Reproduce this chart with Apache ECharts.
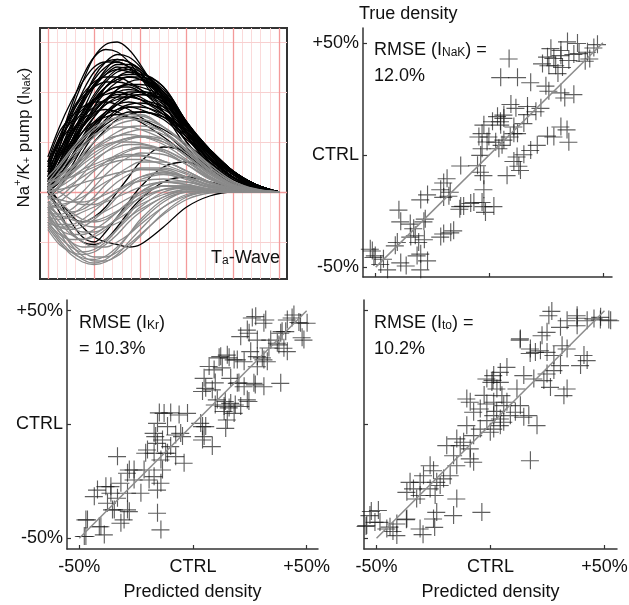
<!DOCTYPE html>
<html><head><meta charset="utf-8">
<script src="https://cdn.jsdelivr.net/npm/echarts@6/dist/echarts.min.js"></script>
<style>html,body{margin:0;padding:0;background:#fff}#c{width:629px;height:605px}</style>
</head><body><div id="c"></div>
<script>
// ---------- Wave panel data ----------
const waveT = [0,0.25,0.5,0.75,1,1.25,1.5,1.75,2,2.5,3,3.5,4,4.5,5];
const blackWaves = [
 [0.2,0.9,1.6,2.2,2.7,2.95,3.0,2.85,2.55,1.8,1.0,0.45,0.15,0.05,0],
 [0.3,1.0,1.7,2.3,2.7,2.85,2.8,2.6,2.3,1.6,0.9,0.4,0.15,0.05,0],
 [0.1,0.6,1.1,1.6,2.1,2.45,2.65,2.6,2.4,1.85,1.2,0.6,0.25,0.08,0],
 [0.1,0.4,0.8,1.3,1.7,2.1,2.3,2.4,2.35,2.0,1.35,0.75,0.35,0.1,0],
 [0.3,0.8,1.3,1.8,2.1,2.35,2.5,2.45,2.3,1.85,1.25,0.7,0.35,0.12,0],
 [0.05,0.5,1.0,1.5,1.9,2.2,2.4,2.45,2.35,1.9,1.2,0.6,0.25,0.08,0],
 [0.4,1.1,1.6,1.95,2.2,2.3,2.3,2.2,2.05,1.6,1.0,0.5,0.2,0.06,0],
 [0.2,0.7,1.1,1.5,1.85,2.1,2.25,2.3,2.25,1.95,1.35,0.85,0.42,0.14,0],
 [0.0,0.3,0.7,1.1,1.5,1.8,2.05,2.2,2.25,2.0,1.4,0.8,0.4,0.12,0],
 [0.5,1.0,1.3,1.6,1.85,2.0,2.1,2.1,2.0,1.7,1.2,0.7,0.3,0.1,0],
 [0.1,0.5,0.9,1.3,1.6,1.85,2.0,2.05,2.0,1.75,1.3,0.8,0.4,0.15,0],
 [0.2,0.6,1.0,1.35,1.65,1.85,1.95,1.95,1.9,1.6,1.15,0.7,0.3,0.1,0],
 [0.0,0.2,0.5,0.9,1.25,1.55,1.75,1.9,1.95,1.8,1.3,0.8,0.4,0.15,0],
 [0.3,0.7,1.0,1.3,1.55,1.75,1.85,1.9,1.85,1.6,1.2,0.75,0.35,0.12,0],
 [0.1,0.4,0.8,1.1,1.4,1.6,1.75,1.8,1.75,1.5,1.1,0.65,0.3,0.1,0],
 [0.6,1.2,1.5,1.7,1.8,1.8,1.75,1.65,1.5,1.2,0.8,0.45,0.2,0.06,0],
 [0.0,0.3,0.6,0.9,1.2,1.45,1.65,1.75,1.78,1.65,1.3,0.85,0.42,0.15,0],
 [0.2,0.5,0.8,1.1,1.35,1.55,1.65,1.7,1.65,1.45,1.05,0.65,0.3,0.1,0],
 [-0.1,0.1,0.4,0.8,1.15,1.4,1.6,1.7,1.7,1.55,1.2,0.75,0.35,0.1,0],
 [0.3,0.8,1.2,1.45,1.6,1.65,1.6,1.5,1.4,1.1,0.75,0.4,0.18,0.05,0],
 [0.1,0.3,0.6,0.9,1.15,1.35,1.5,1.6,1.6,1.5,1.25,0.85,0.42,0.15,0],
 [0.0,0.2,0.4,0.7,1.0,1.25,1.45,1.55,1.6,1.5,1.2,0.8,0.4,0.12,0],
 [0.2,0.5,0.9,1.2,1.4,1.5,1.55,1.5,1.45,1.25,0.95,0.6,0.28,0.08,0],
 [0.0,-0.3,-0.5,-0.6,-0.5,-0.3,0.0,0.3,0.6,0.9,0.8,0.5,0.25,0.08,0],
 [0.1,-0.2,-0.6,-0.9,-1.0,-0.8,-0.5,-0.2,0.1,0.5,0.6,0.4,0.2,0.06,0],
 [0.0,-0.4,-0.8,-1.0,-1.05,-0.95,-0.7,-0.4,-0.15,0.2,0.3,0.2,0.1,0.03,0],
 [0.05,-0.2,-0.45,-0.7,-0.9,-1.0,-1.05,-1.1,-1.05,-0.7,-0.3,-0.08,0,0,0],
 [0.2,0.5,0.9,1.3,1.7,2.0,2.2,2.3,2.3,2.05,1.4,0.8,0.4,0.12,0],
 [0.15,0.6,1.2,1.8,2.3,2.6,2.75,2.7,2.5,1.9,1.15,0.55,0.2,0.05,0],
 [0.25,0.7,1.25,1.75,2.15,2.4,2.55,2.55,2.45,2.0,1.35,0.75,0.35,0.1,0],
 [0.7,1.3,1.8,2.2,2.5,2.6,2.6,2.5,2.3,1.75,1.1,0.55,0.2,0.06,0],
 [0.4,0.9,1.5,2.0,2.4,2.6,2.65,2.6,2.45,1.95,1.3,0.7,0.3,0.08,0],
 [0.2,0.6,1.1,1.55,1.95,2.25,2.45,2.5,2.4,2.1,1.4,0.8,0.4,0.12,0],
 [0.5,1.0,1.45,1.85,2.15,2.35,2.45,2.4,2.3,1.95,1.35,0.8,0.42,0.15,0],
 [0.1,0.5,1.0,1.45,1.85,2.1,2.25,2.3,2.25,2.0,1.38,0.85,0.42,0.15,0],
 [0.6,1.1,1.55,1.9,2.1,2.2,2.2,2.15,2.05,1.8,1.3,0.8,0.4,0.14,0],
 [0.3,0.8,1.35,1.85,2.25,2.5,2.6,2.5,2.3,1.85,1.2,0.65,0.3,0.08,0],
 [0.0,0.4,0.9,1.4,1.8,2.1,2.3,2.35,2.35,2.1,1.4,0.85,0.42,0.15,0],
 [0.35,0.75,1.15,1.5,1.8,2.0,2.1,2.15,2.1,1.9,1.35,0.8,0.4,0.14,0],
 [0.15,0.45,0.85,1.2,1.5,1.75,1.9,2.0,2.0,1.85,1.38,0.85,0.42,0.15,0],
 [0.45,0.85,1.2,1.5,1.7,1.85,1.9,1.9,1.85,1.7,1.3,0.85,0.42,0.15,0],
 [0.25,0.55,0.95,1.3,1.6,1.85,2.05,2.15,2.15,1.95,1.3,0.75,0.38,0.12,0],
 [0.05,0.3,0.7,1.05,1.35,1.6,1.8,1.95,2.0,1.9,1.35,0.85,0.42,0.14,0],
 [0.55,1.05,1.4,1.65,1.85,1.95,2.0,1.95,1.85,1.55,1.1,0.65,0.3,0.09,0],
 [0.1,0.35,0.65,1.0,1.3,1.55,1.75,1.88,1.95,1.85,1.3,0.8,0.4,0.13,0]
];
const grayWaves = [
 [0.2,0.5,0.8,1.05,1.25,1.4,1.5,1.55,1.55,1.3,0.9,0.5,0.2,0.05,0],
 [0.0,0.3,0.6,0.9,1.1,1.3,1.42,1.5,1.52,1.3,0.95,0.55,0.22,0.06,0],
 [0.1,0.4,0.7,0.95,1.15,1.25,1.3,1.3,1.25,1.05,0.7,0.35,0.12,0.03,0],
 [-0.1,0.1,0.35,0.6,0.85,1.05,1.2,1.3,1.32,1.2,0.85,0.45,0.15,0.04,0],
 [0.2,0.35,0.5,0.7,0.9,1.05,1.12,1.15,1.12,0.95,0.65,0.32,0.1,0.02,0],
 [-0.2,-0.1,0.1,0.35,0.6,0.8,0.95,1.05,1.1,1.0,0.72,0.38,0.13,0.03,0],
 [0.0,0.1,0.25,0.45,0.65,0.8,0.9,0.95,0.95,0.82,0.55,0.25,0.08,0.02,0],
 [-0.3,-0.3,-0.2,0.0,0.25,0.5,0.7,0.82,0.88,0.8,0.55,0.27,0.08,0.02,0],
 [0.1,0.2,0.3,0.45,0.55,0.65,0.72,0.75,0.74,0.62,0.42,0.2,0.07,0.02,0],
 [-0.4,-0.5,-0.45,-0.3,-0.1,0.15,0.35,0.5,0.6,0.6,0.42,0.2,0.06,0.01,0],
 [-0.2,-0.35,-0.4,-0.35,-0.2,0.0,0.2,0.35,0.45,0.45,0.3,0.14,0.04,0.01,0],
 [-0.5,-0.7,-0.75,-0.7,-0.55,-0.35,-0.1,0.1,0.25,0.35,0.25,0.1,0.03,0,0],
 [-0.3,-0.6,-0.85,-0.95,-0.9,-0.75,-0.5,-0.25,0.0,0.2,0.15,0.06,0.02,0,0],
 [-0.6,-0.9,-1.1,-1.2,-1.15,-1.0,-0.75,-0.45,-0.2,0.05,0.1,0.05,0.01,0,0],
 [-0.4,-0.8,-1.15,-1.35,-1.42,-1.35,-1.15,-0.85,-0.55,-0.15,0.0,0.02,0,0,0],
 [-0.7,-1.0,-1.25,-1.4,-1.45,-1.4,-1.25,-1.0,-0.75,-0.3,-0.05,0,0,0,0],
 [-0.2,-0.5,-0.8,-1.0,-1.1,-1.1,-1.0,-0.85,-0.65,-0.3,-0.08,0,0,0,0],
 [0.0,-0.2,-0.4,-0.55,-0.6,-0.55,-0.4,-0.2,0.0,0.2,0.2,0.1,0.03,0,0],
 [0.1,0.0,-0.15,-0.25,-0.25,-0.15,0.0,0.15,0.3,0.4,0.3,0.14,0.04,0.01,0],
 [-0.5,-0.55,-0.5,-0.4,-0.3,-0.2,-0.1,0.0,0.1,0.2,0.15,0.06,0.02,0,0],
 [-0.6,-0.85,-0.95,-0.95,-0.85,-0.7,-0.55,-0.4,-0.25,-0.05,0.05,0.03,0.01,0,0],
 [0.15,0.3,0.5,0.7,0.85,0.95,1.0,1.0,0.98,0.85,0.6,0.3,0.1,0.02,0],
 [-0.1,0.0,0.15,0.3,0.45,0.55,0.62,0.65,0.65,0.55,0.38,0.18,0.06,0.01,0],
 [-0.75,-1.05,-1.2,-1.25,-1.2,-1.05,-0.85,-0.6,-0.4,-0.1,0.02,0.02,0,0,0],
 [-0.3,-0.7,-1.0,-1.2,-1.3,-1.3,-1.2,-1.05,-0.85,-0.45,-0.15,-0.02,0,0,0],
 [0.05,0.25,0.45,0.65,0.85,1.0,1.12,1.2,1.25,1.15,0.85,0.45,0.15,0.04,0],
 [-0.4,-0.45,-0.35,-0.15,0.1,0.35,0.55,0.7,0.78,0.75,0.55,0.28,0.09,0.02,0],
 [-0.1,-0.3,-0.5,-0.65,-0.7,-0.7,-0.62,-0.5,-0.35,-0.1,0.05,0.04,0.01,0,0],
 [-0.55,-0.75,-0.85,-0.85,-0.75,-0.6,-0.4,-0.2,-0.05,0.12,0.12,0.05,0.01,0,0],
 [0.2,0.25,0.3,0.4,0.5,0.6,0.68,0.72,0.72,0.62,0.42,0.2,0.06,0.01,0],
 [0.3,0.55,0.85,1.1,1.3,1.42,1.48,1.48,1.42,1.2,0.82,0.42,0.15,0.04,0],
 [-0.15,0.15,0.45,0.75,1.0,1.2,1.35,1.42,1.45,1.3,0.95,0.5,0.18,0.04,0],
 [0.05,0.2,0.4,0.6,0.78,0.92,1.02,1.08,1.1,1.0,0.72,0.36,0.12,0.03,0],
 [-0.35,-0.2,0.0,0.2,0.42,0.6,0.75,0.85,0.9,0.85,0.62,0.3,0.1,0.02,0],
 [-0.45,-0.65,-0.65,-0.55,-0.38,-0.18,0.02,0.18,0.3,0.38,0.28,0.12,0.03,0,0],
 [-0.25,-0.5,-0.7,-0.8,-0.8,-0.7,-0.52,-0.3,-0.1,0.12,0.12,0.05,0.01,0,0],
 [-0.5,-0.8,-1.0,-1.1,-1.08,-0.95,-0.75,-0.52,-0.3,0.0,0.08,0.04,0.01,0,0],
 [-0.65,-0.95,-1.2,-1.32,-1.35,-1.28,-1.1,-0.85,-0.6,-0.2,0.0,0.01,0,0,0],
 [-0.35,-0.7,-1.05,-1.28,-1.38,-1.38,-1.28,-1.1,-0.88,-0.42,-0.1,0,0,0,0],
 [0.0,0.05,0.1,0.18,0.25,0.32,0.38,0.42,0.45,0.42,0.3,0.14,0.04,0.01,0],
 [-0.2,-0.25,-0.2,-0.1,0.05,0.2,0.32,0.42,0.48,0.48,0.35,0.17,0.05,0.01,0],
 [-0.1,-0.15,-0.2,-0.2,-0.15,-0.05,0.06,0.15,0.22,0.26,0.2,0.09,0.03,0,0],
 [0.1,0.2,0.35,0.55,0.72,0.88,1.0,1.08,1.12,1.05,0.78,0.4,0.14,0.03,0],
 [-0.6,-0.7,-0.7,-0.62,-0.5,-0.38,-0.25,-0.12,0.0,0.12,0.1,0.04,0.01,0,0],
 [-0.3,-0.45,-0.55,-0.6,-0.58,-0.5,-0.38,-0.25,-0.12,0.05,0.08,0.04,0.01,0,0]
];
const waveMajorTicks = [0,1,2,3,4,5];
const waveMinorTicks = [0.2,0.4,0.6,0.8,1.2,1.4,1.6,1.8,2.2,2.4,2.6,2.8,3.2,3.4,3.6,3.8,4.2,4.4,4.6,4.8];
const waveHLines = [-1,1,2,3];
const waveYTicks = [-1,0,1,2,3];

// ---------- Scatter panels data ----------
const pctTicks = [-50,0,50];
const pctLabels = {'-50':'-50%','0':'CTRL','50':'+50%'};
const identityLine = [[-50,-50],[50,50]];

const nakPoints = [
 [34.2,50.6],[38.6,49.9],[26.9,47.6],[31.3,46.8],[25.4,43.8],[28.2,43.2],[31.3,44.5],[23.2,40.8],[26,40],[29,40],
 [32,39.2],[34.8,42.3],[39.3,45.4],[43,46],[45.8,47.9],[47.4,49.4],[8.5,43],[4.8,34.7],[12.2,34.7],[18,32.4],
 [24.7,30.9],[26,28.6],[31.3,27.9],[33,25.6],[37,27.1],[9.3,22.7],[11.5,21],[16.6,21.8],[20.3,19.5],[22.5,21],
 [3.4,17.3],[6.2,16.5],[1.2,15],[4.8,13.5],[16.6,18.2],[15,14.2],[10.6,12.7],[12.2,9.7],[-2.6,13.5],[-4.8,8.2],
 [-0.4,8.2],[2.6,5.9],[6.2,6.8],[31.3,12.7],[34,11.4],[28.2,8.2],[25.4,8.6],[34.8,5.9],[44,43],[30,36.5],
 [37,45],[42,42],[20.9,4.5],[18,2.2],[15,0.3],[12,-0.7],[10.6,-2.7],[12.8,-4.8],[7.6,-9],[13.5,-6.7],
 [9,8.2],[10.6,9.7],[5.4,4.5],[4,3],[-1.2,6],[-3.4,3],[-4,0],[4.7,15],[6.2,18],[-3.4,9.7],
 [-12.8,-4.7],[-5.4,-4.6],[-2.6,-9],[-2.6,-15.3],[-2.6,-22.8],[1.8,-22.8],[-20.3,-12.3],[-21.6,-15.3],[-18,-18.2],[-27.4,-17.6],
 [-30.4,-19.8],[-12.8,-22.8],[-8.4,-21.4],[-20.3,-35],[-17.2,-34.5],[-21.6,-36.4],[-40,-24.4],[-39.2,-29.6],[-33.5,-32.7],[-29,-29.6],
 [-34.8,-36.4],[-31.3,-38.8],[-40.7,-38.8],[-51.7,-42.6],[-51,-45.5],[-45,-51],[-39.2,-47.9],[-30.4,-44],[-27.4,-47],[-30.4,-51],
 [-48,-48.6],[-18.8,-10.4],[-17.4,-16.4],[-20.3,-18.7],[-4.1,-7.5],[-1.9,-25.4],[-7,-21],[-13.2,-24],[-35,-30.6],[-32.8,-35.8],
 [-28.8,-37.6],[-41.6,-40.3],[-15.9,-33.6],[-52.6,-41.8],[-50.4,-44.8],[-46.8,-46.3],[-36.8,-49.3],[-32,-44.8],[-28.4,-28.4],[-11.5,-22.7],
 [-3.4,-21]
];
const krPoints = [
 [27.4,47.6],[31.8,46.1],[31,44.7],[23.7,41.7],[24.5,40.3],[20.8,38.8],[28.1,37.3],[34,37.3],[36.9,35.9],[41.3,46.1],
 [44.2,48.3],[47.1,44.7],[50,44.7],[48.6,37.3],[39.8,33.7],[41.3,32.2],[38.4,40.3],[40.6,41],[25.2,32.2],[28.1,30],
 [31,28.6],[32.5,27.8],[28.1,25.6],[22.3,27.8],[17.9,28.6],[14.9,30.7],[12,30],[9.1,24.2],[4.7,20.5],[5.4,16.1],
 [8.3,15.4],[16.4,20.5],[19.3,18.3],[22.3,16.8],[26.6,18.3],[31,16.8],[38.4,18.3],[10.5,11],[13.5,8.1],[16.4,9.5],
 [17.9,5.1],[20.8,8.1],[23.7,11],[14.9,2.2],[13.5,5.9],[3.2,0.7],[5.4,-0.7],[4.7,-5.1],[8.3,-9.5],[-2.6,5.1],
 [-6.3,4.4],[-12.9,5.1],[-15.8,0.7],[-11.4,-0.7],[-5.6,-3.7],[-4.8,-5.1],[-10,-9.5],[-11.4,-12.4],[-7.8,-13.9],[-4.1,-16.8],
 [-17.3,-3.7],[-15.8,-8.1],[-20.2,-11],[-17.3,-12.4],[-14.3,-15.4],[-17.3,-22.7],[-14.3,-25.6],[-15.8,-28.6],[-21.7,-19.8],[-26.1,-19.8],
 [-29,-21.2],[-26.1,-24.2],[-33.4,-13.9],[-31.9,-25.6],[-36.3,-27.1],[-36.3,-30],[-29,-30],[-23.1,-30],[-33.4,-32.2],[-42.2,-28.6],
 [-37.8,-34.4],[-34.8,-37.3],[-29,-37.3],[-30.5,-41.7],[-15.8,-38.8],[-14.3,-46.1],[-46.6,-41.7],[-48,-49],[-40.7,-44.7],[-39.2,-48.3],
 [-31.9,-43.2],[25.9,47],[43.4,47],[46.4,45],[39,41],[47.8,38.3],[37.6,35.2],[33.2,33.8],[30.3,29.5],[11.3,29.5],
 [15.7,29.5],[19.3,28.6],[6.9,25.7],[12.7,25.1],[9.6,18.5],[4,14.7],[20,18.5],[27.2,17.6],[-15,5.3],[-10,5.3],
 [14,10.3],[15.7,7.5],[9.6,8.8],[18.4,8.8],[24.4,10.3],[-43.6,-31.5],[-47.3,-41.7],[-47.3,-49],[-41.4,-44.7],[-35.6,-37.3],
 [-28.2,-38.1],[-38.5,-27.1],[4,-0.7],[14.2,-1.5],[4,-6.6],[-12.2,-12.4],[-13.6,-6.6],[-16.6,-5.1],[-7.8,-4.4],[-13.6,-19.8],
 [-19.5,-24.2],[-21,-12.4],[-28.2,-19.8]
];
const toPoints = [
 [25.4,48],[33.4,45.8],[37.8,48],[37.8,43.6],[42.2,45.8],[45.2,46.6],[48.1,47.3],[52.5,45.8],[30.5,42.9],[24.6,40.7],
 [22.4,39.2],[17.3,33.4],[19.5,31.9],[21.7,32.6],[24.6,31.9],[27.6,30.5],[12.9,37.8],[31.2,34.8],[33.4,33.4],[30.5,26.1],
 [27.6,23.9],[24.6,22.4],[23.2,19.5],[26.1,16.5],[33.4,15.8],[32,12.9],[40.8,30.5],[42.2,28.3],[39.3,26.1],[18.8,20.2],
 [14.4,21.7],[11.4,15.8],[7,25.3],[4.1,23.1],[1.2,21.7],[0.4,18.7],[4.1,18.7],[-1.8,20.2],[2.6,15.8],[4.8,12.9],
 [7,10],[5.6,8.5],[1.2,10],[-1.8,9.2],[-4.7,7],[-9.1,10],[-10.6,11.4],[-7.6,5.6],[-1.8,1.9],[1.2,4.1],
 [4.1,2.6],[8.5,4.1],[10.7,5.6],[12.9,8.5],[14.4,3.4],[16.6,4.1],[4.1,-0.3],[5.6,1.2],[1.2,-1.8],[-0.3,-3.2],
 [-4.7,-1.8],[-10.6,-0.3],[-7.6,-4.7],[-12,-7.6],[-13.5,-9.1],[-15,-6.1],[-19.4,-9.1],[-9.1,-10.5],[-7.6,-16.4],[-9.1,-14.9],
 [-16.4,-13.5],[-15,-17.9],[-17.9,-22.3],[-26.7,-17.9],[-25.2,-20.1],[-29.6,-22.3],[-31.1,-25.2],[-35.5,-25.2],[-34,-28.1],[-36.9,-29.6],
 [-31.1,-31],[-32.6,-32.5],[-26.7,-28.1],[-23.8,-25.2],[-22.3,-26.6],[-24.5,-31],[-20.8,-23.7],[-15,-32.5],[-23.8,-38.4],[-25.2,-41.3],
 [-16.4,-39.8],[-4,-38.4],[-31.1,-45.7],[-36.9,-41.3],[-41.3,-43.5],[-44.3,-44.9],[-45.7,-45.7],[-48.7,-42.8],[-53.1,-39.8],[-50.9,-42.8],
 [-54.5,-44.2],[17.3,-15.7],[20.2,-0.3],[-49.4,-37.6],[-41.3,-48.6],[-29.8,-48.2],[-24.7,-45],[-52.5,-38],[-54.8,-44.6],[-43,-46.8],
 [-37.1,-41.6],[26.7,49.9],[12.8,37.3],[17.2,31.4],[37.8,46.9],[48,46.1],[51.7,46.1],[0.9,19.6],[2.5,6],[-3,13]
];

// ---------- chart ----------
const FONT = '"Liberation Sans", Arial, Helvetica, sans-serif';
const TXT = '#111';
const crossPath = 'path://M0,9.4H19V10.6H0Z M9.4,0H10.6V19H9.4Z';
const chart = echarts.init(document.getElementById('c'), null, {renderer:'canvas'});

const subRich = {
  n:{fontSize:18, fontWeight:'normal', fontFamily:FONT, color:TXT, lineHeight:26},
  s:{fontSize:12, fontWeight:'normal', fontFamily:FONT, color:TXT, verticalAlign:'middle', padding:[5,0,0,0]},
  p:{fontSize:12, fontWeight:'normal', fontFamily:FONT, color:TXT, verticalAlign:'top', lineHeight:22}
};
const nameRich = {
  n:{fontSize:17, fontWeight:'normal', fontFamily:FONT, color:TXT, lineHeight:24},
  s:{fontSize:11, fontWeight:'normal', fontFamily:FONT, color:TXT, verticalAlign:'middle', padding:[5,0,0,0]},
  p:{fontSize:11, fontWeight:'normal', fontFamily:FONT, color:TXT, verticalAlign:'top', lineHeight:20}
};

function pctXAxis(grid, min, max, showLabels, name){
  return {type:'value', gridIndex:grid, min:min, max:max,
    name: name || '', nameLocation:'middle', nameGap:34,
    nameTextStyle:{fontSize:18, fontFamily:FONT, color:TXT},
    axisLine:{show:true, onZero:false, lineStyle:{color:'#333', width:1.5}},
    axisTick:{show:true, inside:true, length:4, customValues:pctTicks, lineStyle:{color:'#333', width:1.2}},
    axisLabel:{show:showLabels, customValues:pctTicks, formatter:v=>pctLabels[String(v)], fontSize:18, fontFamily:FONT, color:TXT, margin:9},
    splitLine:{show:false}};
}
function pctYAxis(grid, min, max, showLabels){
  return {type:'value', gridIndex:grid, min:min, max:max,
    axisLine:{show:true, onZero:false, lineStyle:{color:'#333', width:1.5}},
    axisTick:{show:true, inside:true, length:4, customValues:pctTicks, lineStyle:{color:'#333', width:1.2}},
    axisLabel:{show:showLabels, customValues:pctTicks, formatter:v=>pctLabels[String(v)], fontSize:18, fontFamily:FONT, color:TXT, margin:4},
    splitLine:{show:false}};
}

const series = [];
series.push({type:'line', xAxisIndex:0, yAxisIndex:0, data:[], symbol:'none', silent:true, z:1,
  markLine:{silent:true, z:1, zlevel:0, symbol:['none','none'], label:{show:false}, animation:false,
    data: [].concat(
      waveMinorTicks.map(v=>({xAxis:v, lineStyle:{color:'#fbdada', width:1, type:'solid'}})),
      waveHLines.map(v=>({yAxis:v, lineStyle:{color:'#f8d0d0', width:1, type:'solid'}})),
      waveMajorTicks.map(v=>({xAxis:v, lineStyle:{color:'#f39a9a', width:1.3, type:'solid'}})),
      [{yAxis:0, lineStyle:{color:'#f39a9a', width:1.3, type:'solid'}}]
    )}});
blackWaves.forEach(w=>series.push({type:'line', xAxisIndex:0, yAxisIndex:0, smooth:0.35, symbol:'none', silent:true, z:6,
  data: waveT.map((t,i)=>[t,w[i]]), lineStyle:{color:'#000', width:1.3}}));
grayWaves.forEach(w=>series.push({type:'line', xAxisIndex:0, yAxisIndex:0, smooth:0.35, symbol:'none', silent:true, z:7,
  data: waveT.map((t,i)=>[t,w[i]]), lineStyle:{color:'#8a8a8a', width:1.3}}));

[[1,nakPoints],[2,krPoints],[3,toPoints]].forEach(([g,pts])=>{
  series.push({type:'scatter', xAxisIndex:g, yAxisIndex:g, data:pts, symbol:crossPath, symbolSize:18, silent:true, z:3,
    itemStyle:{color:'rgba(20,20,20,0.85)'}});
  series.push({type:'line', xAxisIndex:g, yAxisIndex:g, data:identityLine, symbol:'none', silent:true, z:4,
    lineStyle:{color:'#8c8c8c', width:1.5}});
});

chart.setOption({
  animation:false,
  backgroundColor:'#fff',
  textStyle:{fontFamily:FONT},
  grid:[
    {left:40, top:28, width:247, height:251, show:true, borderColor:'#333', borderWidth:2, backgroundColor:'#fff', outerBoundsMode:'none', containLabel:false},
    {left:363, top:28, width:249, height:249, outerBoundsMode:'none', containLabel:false},
    {left:67, top:300, width:251, height:249, outerBoundsMode:'none', containLabel:false},
    {left:364, top:300, width:253, height:249, outerBoundsMode:'none', containLabel:false}
  ],
  xAxis:[
    {type:'value', gridIndex:0, min:-0.17, max:5.17, axisLine:{show:false}, axisTick:{show:false}, axisLabel:{show:false}, splitLine:{show:false}},
    pctXAxis(1, -55.6, 54, false),
    pctXAxis(2, -55.4, 55, true, 'Predicted density'),
    pctXAxis(3, -55.5, 55.5, true, 'Predicted density')
  ],
  yAxis:[
    {type:'value', gridIndex:0, min:-1.74, max:3.28, axisLine:{show:false},
     axisTick:{show:true, inside:true, length:4, customValues:waveYTicks, lineStyle:{color:'#666', width:1}},
     axisLabel:{show:false}, splitLine:{show:false},
     name:'{n|Na}{p|+}{n|/K}{s|+}{n| pump (I}{s|NaK}{n|)}', nameLocation:'middle', nameRotate:90, nameGap:4,
     nameTextStyle:{rich:nameRich, padding:[0,0,0,32]}},
    pctYAxis(1, -54.4, 56.6, true),
    pctYAxis(2, -54.7, 54.7, true),
    pctYAxis(3, -54.7, 54.7, false)
  ],
  title:[
    {text:'True density', left:359, top:5, padding:0, textStyle:{fontSize:18, fontWeight:'normal', fontFamily:FONT, color:TXT}},
    {text:'{n|RMSE (I}{s|NaK}{n|) =}\n{n|12.0%}', left:374, top:37, padding:0, textStyle:{fontWeight:'normal', rich:subRich}},
    {text:'{n|RMSE (I}{s|Kr}{n|)}\n{n|= 10.3%}', left:79, top:310, padding:0, textStyle:{fontWeight:'normal', rich:subRich}},
    {text:'{n|RMSE (I}{s|to}{n|) =}\n{n|10.2%}', left:374, top:310, padding:0, textStyle:{fontWeight:'normal', rich:subRich}},
    {text:'{n|T}{s|a}{n|-Wave}', right:349, top:245, padding:0, textStyle:{fontWeight:'normal', rich:subRich}}
  ],
  series: series
});
</script></body></html>
